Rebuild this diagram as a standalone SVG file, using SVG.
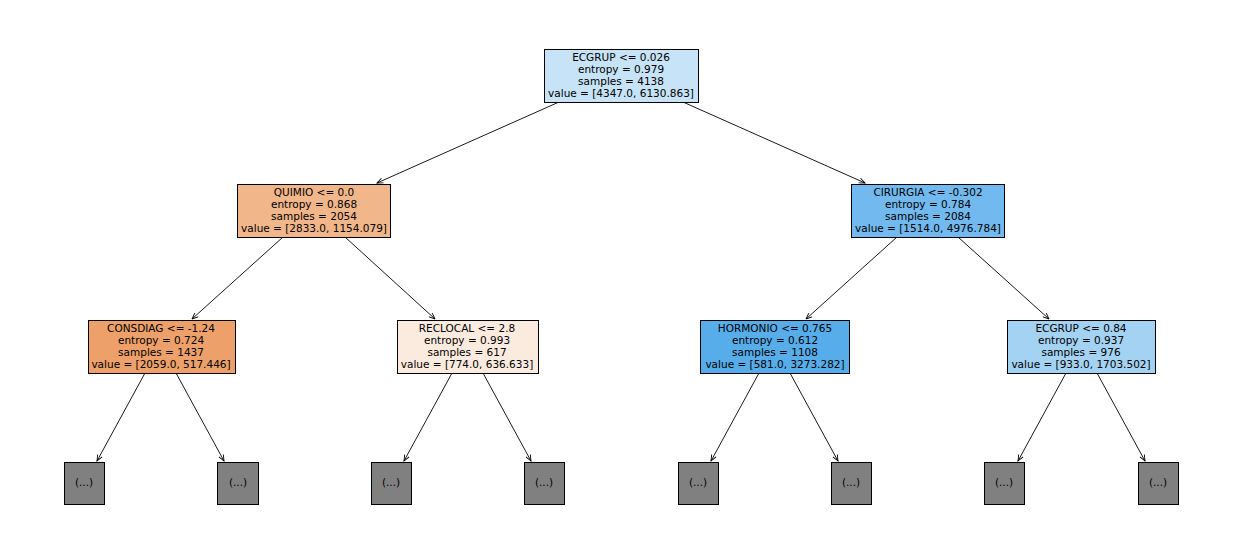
<svg xmlns="http://www.w3.org/2000/svg" width="1242" height="558" viewBox="0 0 1242 558">
<defs>
<marker id="ah" markerWidth="8" markerHeight="8" refX="7" refY="4" orient="auto" markerUnits="userSpaceOnUse">
<path d="M1,1.5 L7,4 L1,6.5" fill="none" stroke="#000" stroke-width="0.9"/>
</marker>
<style>
.n rect,.leaf rect{stroke:#000;stroke-width:1}
text{font-family:"DejaVu Sans",sans-serif;font-size:10.5px;text-anchor:middle;fill:#000}
.e line{stroke:#000;stroke-width:0.9;marker-end:url(#ah)}
.leaf rect{fill:#808080}
</style>
</defs>
<rect x="0" y="0" width="1242" height="558" fill="#fff"/>
<g class="e" id="connectors">
<line x1="559" y1="102" x2="377" y2="183"/>
<line x1="683" y1="102" x2="865" y2="183"/>
<line x1="283" y1="237" x2="192" y2="319"/>
<line x1="345" y1="237" x2="435" y2="319"/>
<line x1="897" y1="237" x2="806" y2="319"/>
<line x1="958" y1="237" x2="1049" y2="319"/>
<line x1="145" y1="373" x2="97" y2="461"/>
<line x1="176" y1="373" x2="224" y2="461"/>
<line x1="452" y1="373" x2="404" y2="461"/>
<line x1="483" y1="373" x2="531" y2="461"/>
<line x1="759" y1="373" x2="711" y2="461"/>
<line x1="790" y1="373" x2="838" y2="461"/>
<line x1="1066" y1="373" x2="1018" y2="461"/>
<line x1="1097" y1="373" x2="1145" y2="461"/>
</g>
<g id="n0" class="n"><rect x="544.5" y="49.5" width="154" height="53" fill="#c6e3f7"/>
<text x="621" y="61">ECGRUP &lt;= 0.026</text><text x="621" y="73">entropy = 0.979</text><text x="621" y="85">samples = 4138</text><text x="621" y="97">value = [4347.0, 6130.863]</text></g>
<g id="n1" class="n"><rect x="237.5" y="184.5" width="153" height="53" fill="#f2b68b"/>
<text x="314" y="196">QUIMIO &lt;= 0.0</text><text x="314" y="208">entropy = 0.868</text><text x="314" y="220">samples = 2054</text><text x="314" y="232">value = [2833.0, 1154.079]</text></g>
<g id="n2" class="n"><rect x="851.5" y="184.5" width="153" height="53" fill="#72b9ef"/>
<text x="928" y="196">CIRURGIA &lt;= -0.302</text><text x="928" y="208">entropy = 0.784</text><text x="928" y="220">samples = 2084</text><text x="928" y="232">value = [1514.0, 4976.784]</text></g>
<g id="n3" class="n"><rect x="88.5" y="320.5" width="147" height="53" fill="#eda06a"/>
<text x="161" y="332">CONSDIAG &lt;= -1.24</text><text x="161" y="344">entropy = 0.724</text><text x="161" y="356">samples = 1437</text><text x="161" y="368">value = [2059.0, 517.446]</text></g>
<g id="n4" class="n"><rect x="397.5" y="320.5" width="141" height="53" fill="#fbebdf"/>
<text x="467" y="332">RECLOCAL &lt;= 2.8</text><text x="467" y="344">entropy = 0.993</text><text x="467" y="356">samples = 617</text><text x="467" y="368">value = [774.0, 636.633]</text></g>
<g id="n5" class="n"><rect x="700.5" y="320.5" width="149" height="53" fill="#57acea"/>
<text x="775" y="332">HORMONIO &lt;= 0.765</text><text x="775" y="344">entropy = 0.612</text><text x="775" y="356">samples = 1108</text><text x="775" y="368">value = [581.0, 3273.282]</text></g>
<g id="n6" class="n"><rect x="1007.5" y="320.5" width="148" height="53" fill="#a4d2f3"/>
<text x="1081" y="332">ECGRUP &lt;= 0.84</text><text x="1081" y="344">entropy = 0.937</text><text x="1081" y="356">samples = 976</text><text x="1081" y="368">value = [933.0, 1703.502]</text></g>
<g id="l1" class="leaf"><rect x="64.5" y="462.5" width="40" height="42"/><text x="84" y="486">(...)</text></g>
<g id="l2" class="leaf"><rect x="217.5" y="462.5" width="41" height="42"/><text x="238" y="486">(...)</text></g>
<g id="l3" class="leaf"><rect x="371.5" y="462.5" width="40" height="42"/><text x="391" y="486">(...)</text></g>
<g id="l4" class="leaf"><rect x="524.5" y="462.5" width="40" height="42"/><text x="544" y="486">(...)</text></g>
<g id="l5" class="leaf"><rect x="678.5" y="462.5" width="40" height="42"/><text x="698" y="486">(...)</text></g>
<g id="l6" class="leaf"><rect x="831.5" y="462.5" width="40" height="42"/><text x="851" y="486">(...)</text></g>
<g id="l7" class="leaf"><rect x="984.5" y="462.5" width="40" height="42"/><text x="1004" y="486">(...)</text></g>
<g id="l8" class="leaf"><rect x="1138.5" y="462.5" width="40" height="42"/><text x="1158" y="486">(...)</text></g>
</svg>
